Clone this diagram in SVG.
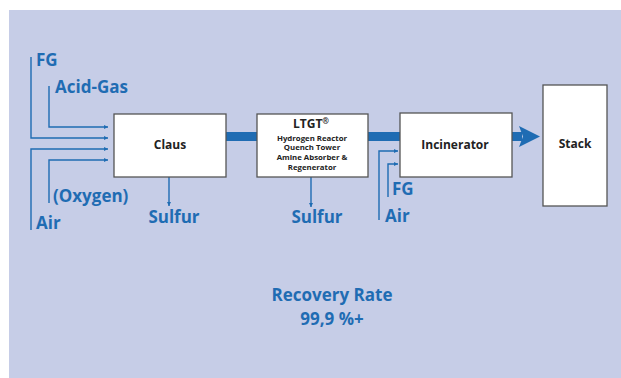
<svg xmlns="http://www.w3.org/2000/svg" width="621" height="378" viewBox="0 0 621 378">
<style>
.box{fill:#fff;stroke:#555;stroke-width:1.3}
.ln{fill:none;stroke:#1f6cb3;stroke-width:1.4}
.lbl{font-family:"Open Sans","Liberation Sans",sans-serif;font-weight:bold;fill:#1f6cb3;font-size:17px}
.bt{font-family:"Open Sans","Liberation Sans",sans-serif;font-weight:bold;fill:#222;text-anchor:middle}
</style>
<defs>
<marker id="ah" viewBox="0 0 6 6" refX="6" refY="3" markerWidth="4.5" markerHeight="4.5" markerUnits="userSpaceOnUse" orient="auto">
<path d="M0,0 L6,3 L0,6 z" fill="#1f6cb3"/>
</marker>
</defs>
<rect x="9" y="10" width="612" height="368" fill="#c6cde7"/>
<g id="connectors">
<path class="ln" d="M31,57 V138 H108" marker-end="url(#ah)"/>
<path class="ln" d="M49,86 V127 H108" marker-end="url(#ah)"/>
<path class="ln" d="M31,230 V149 H108" marker-end="url(#ah)"/>
<path class="ln" d="M49,203 V160 H108" marker-end="url(#ah)"/>
<path class="ln" d="M169,177 V206" marker-end="url(#ah)"/>
<path class="ln" d="M311,177 V207" marker-end="url(#ah)"/>
<path class="ln" d="M379,220 V151 H398" marker-end="url(#ah)"/>
<path class="ln" d="M388,197 V164 H398" marker-end="url(#ah)"/>
<rect x="226" y="132" width="31" height="9" fill="#1f6cb3"/>
<rect x="368" y="132" width="32" height="9" fill="#1f6cb3"/>
<rect x="512" y="132" width="10" height="9" fill="#1f6cb3"/>
<path d="M519,126 L540,136.5 L519,147 L523,136.5 z" fill="#1f6cb3"/>
</g>
<g id="claus">
<rect class="box" x="114" y="114" width="112" height="63"/>
<text class="bt" x="170" y="149" font-size="12">Claus</text>
</g>
<g id="ltgt">
<rect class="box" x="257" y="114" width="111" height="63"/>
<text class="bt" x="311" y="127.5" font-size="12">LTGT<tspan font-size="8" dy="-4">®</tspan></text>
<text class="bt" x="312" y="140.5" font-size="7.8">Hydrogen Reactor</text>
<text class="bt" x="312" y="150" font-size="7.8">Quench Tower</text>
<text class="bt" x="312" y="159.5" font-size="7.8">Amine Absorber &amp;</text>
<text class="bt" x="312" y="169.5" font-size="7.8">Regenerator</text>
</g>
<g id="incinerator">
<rect class="box" x="400" y="113" width="112" height="64"/>
<text class="bt" x="455" y="149" font-size="12">Incinerator</text>
</g>
<g id="stack">
<rect class="box" x="543" y="85" width="64" height="121"/>
<text class="bt" x="575" y="148" font-size="12">Stack</text>
</g>
<g id="labels">
<text class="lbl" x="36" y="66">FG</text>
<text class="lbl" x="55" y="93">Acid-Gas</text>
<text class="lbl" x="53" y="202">(Oxygen)</text>
<text class="lbl" x="36" y="229">Air</text>
<text class="lbl" x="174" y="223" text-anchor="middle">Sulfur</text>
<text class="lbl" x="317" y="223" text-anchor="middle">Sulfur</text>
<text class="lbl" x="392" y="195">FG</text>
<text class="lbl" x="385" y="222">Air</text>
<text class="lbl" x="332" y="301" text-anchor="middle">Recovery Rate</text>
<text class="lbl" x="332" y="325" text-anchor="middle">99,9 %+</text>
</g>
</svg>
